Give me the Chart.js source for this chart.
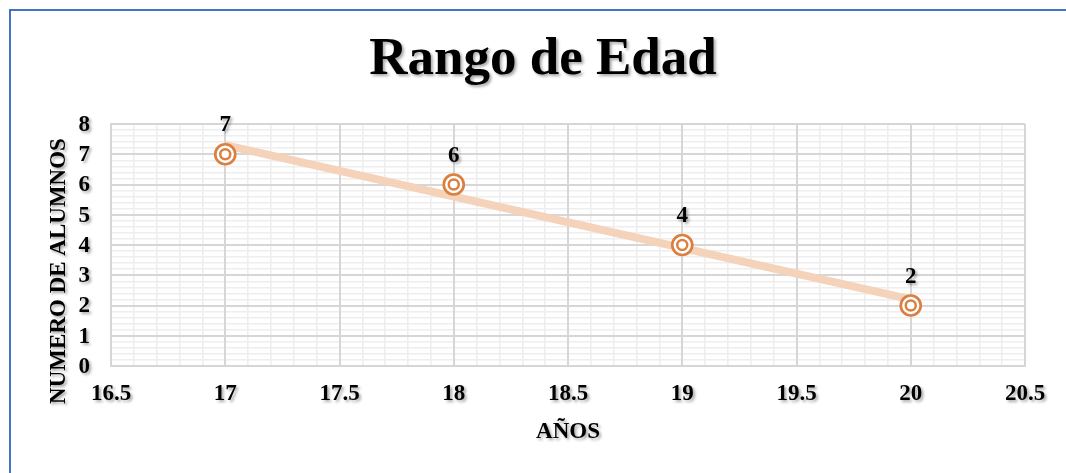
<!DOCTYPE html>
<html>
<head>
<meta charset="utf-8">
<script src="https://cdn.jsdelivr.net/npm/chart.js@4"></script>
<style>
html, body { margin: 0; padding: 0; background: #fff; overflow: hidden; }
#wrap { position: relative; width: 1066px; height: 473px; }
#frame { position: absolute; left: 9px; top: 9px; width: 1200px; height: 600px;
         border-left: 2px solid #4472c4; border-top: 2px solid #4472c4; }
canvas { position: absolute; left: 0; top: 0; }
</style>
</head>
<body>
<div id="wrap">
  <div id="frame"></div>
  <canvas id="myChart" width="1066" height="473"></canvas>
</div>
<script>
const edades = [17, 18, 19, 20];
const alumnos = [7, 6, 4, 2];
const xRange = [16.5, 20.5];
const yRange = [0, 8];

const titulo = 'Rango de Edad';
const tituloX = 'AÑOS';
const tituloY = 'NUMERO DE ALUMNOS';

const serif = '"Liberation Serif", "Times New Roman", serif';
const naranja = '#da8040';

// linear trend line (least squares), like Excel's trendline
function tendencia(xs, ys) {
    const n = xs.length;
    const mx = xs.reduce((a, b) => a + b, 0) / n;
    const my = ys.reduce((a, b) => a + b, 0) / n;
    let sxy = 0, sxx = 0;
    for (let i = 0; i < n; i++) {
        sxy += (xs[i] - mx) * (ys[i] - my);
        sxx += (xs[i] - mx) * (xs[i] - mx);
    }
    const m = sxy / sxx;
    const b = my - m * mx;
    const x0 = xs[0], x1 = xs[n - 1];
    return [{ x: x0, y: m * x0 + b }, { x: x1, y: m * x1 + b }];
}

const puntos = edades.map((e, i) => ({ x: e, y: alumnos[i] }));

function sombra(ctx) {
    ctx.shadowColor = 'rgba(0,0,0,0.35)';
    ctx.shadowOffsetX = 2;
    ctx.shadowOffsetY = 2;
    ctx.shadowBlur = 3;
}

function etiqueta(v) {
    return String(Number(v.toFixed(2)));
}

// all text is drawn here so it can carry the soft shadow of the original
const textos = {
    id: 'textos',
    afterDraw(chart) {
        const ctx = chart.ctx;
        const area = chart.chartArea;
        const sx = chart.scales.x, sy = chart.scales.y;
        ctx.save();
        sombra(ctx);
        ctx.fillStyle = '#000';

        ctx.textAlign = 'center';
        ctx.textBaseline = 'alphabetic';
        ctx.font = 'bold 53px ' + serif;
        ctx.fillText(titulo, 543, 74);

        ctx.font = 'bold 23px ' + serif;
        ctx.fillText(tituloX, (area.left + area.right) / 2, 438);

        ctx.save();
        ctx.translate(65, 271);
        ctx.rotate(-Math.PI / 2);
        ctx.fillText(tituloY, 0, 0);
        ctx.restore();

        // tick labels
        ctx.textBaseline = 'middle';
        sx.ticks.forEach(t => {
            ctx.fillText(etiqueta(t.value), sx.getPixelForValue(t.value), 394);
        });
        ctx.textAlign = 'right';
        sy.ticks.forEach(t => {
            ctx.fillText(etiqueta(t.value), area.left - 21, sy.getPixelForValue(t.value) + 1);
        });

        // data labels above each point
        ctx.textAlign = 'center';
        ctx.textBaseline = 'alphabetic';
        const meta = chart.getDatasetMeta(1);
        meta.data.forEach((pt, i) => {
            ctx.fillText(String(alumnos[i]), pt.x, pt.y - 23);
        });
        ctx.restore();
    }
};

const ejeMenor = (pos, rango, paso) => ({
    type: 'linear',
    position: pos,
    min: rango[0],
    max: rango[1],
    ticks: { display: false, stepSize: paso },
    grid: { color: '#eeeeee', lineWidth: 1.6, drawTicks: false, z: -1 },
    border: { display: false },
    afterFit(s) {
        if (pos === 'bottom') s.height = 0; else s.width = 0;
    }
});

const myChart = new Chart(document.getElementById('myChart'), {
    type: 'scatter',
    data: {
        datasets: [
            {
                type: 'line',
                data: tendencia(edades, alumnos),
                borderColor: '#f5d2ba',
                borderWidth: 8,
                pointRadius: 0,
                order: 2
            },
            {
                data: puntos,
                pointRadius: 10,
                pointBorderWidth: 2.7,
                borderColor: naranja,
                backgroundColor: '#fff',
                order: 1
            },
            {
                data: puntos,
                pointRadius: 5,
                pointBorderWidth: 2.5,
                borderColor: naranja,
                backgroundColor: '#fff',
                order: 0
            }
        ]
    },
    options: {
        responsive: false,
        animation: false,
        layout: { padding: { top: 124, right: 41, left: 0, bottom: 0 } },
        plugins: {
            legend: { display: false },
            tooltip: { enabled: false }
        },
        scales: {
            xMinor: ejeMenor('bottom', xRange, 0.1),
            yMinor: ejeMenor('left', yRange, 0.2),
            x: {
                type: 'linear',
                position: 'bottom',
                min: xRange[0],
                max: xRange[1],
                ticks: { display: false, stepSize: 0.5 },
                grid: { color: '#d6d6d6', lineWidth: 2, drawTicks: false },
                border: { color: '#d6d6d6', width: 2 },
                afterFit(s) { s.height = 107; }
            },
            y: {
                type: 'linear',
                position: 'left',
                min: yRange[0],
                max: yRange[1],
                ticks: { display: false, stepSize: 1 },
                grid: { color: '#d6d6d6', lineWidth: 2, drawTicks: false },
                border: { color: '#d6d6d6', width: 2 },
                afterFit(s) { s.width = 111; }
            }
        }
    },
    plugins: [textos]
});
</script>
</body>
</html>
